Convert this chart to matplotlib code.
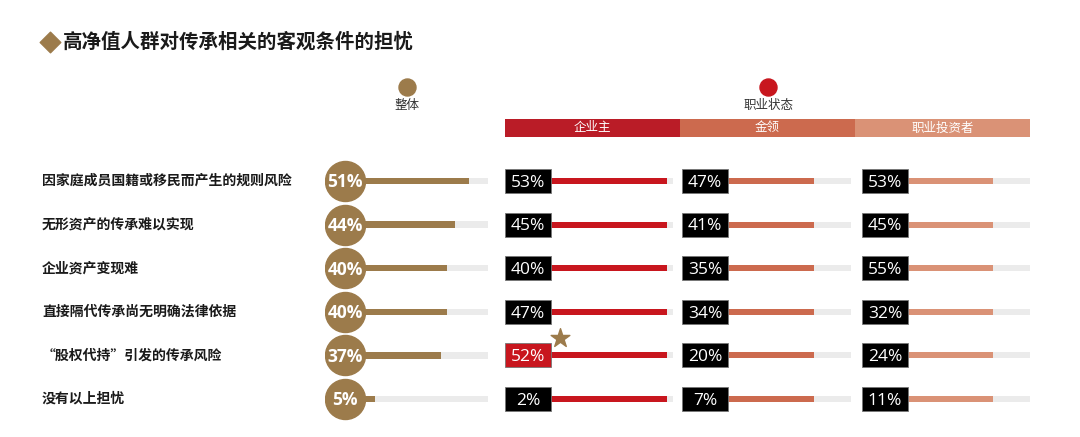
import numpy as np
import matplotlib.pyplot as plt
from matplotlib.patches import Rectangle

plt.rcParams['font.family'] = ['Noto Sans CJK SC', 'DejaVu Sans']

# data
title = '高净值人群对传承相关的客观条件的担忧'
categories = ['因家庭成员国籍或移民而产生的规则风险', '无形资产的传承难以实现', '企业资产变现难',
              '直接隔代传承尚无明确法律依据', '“股权代持”引发的传承风险', '没有以上担忧']
overall = [51, 44, 40, 40, 37, 5]
groups = ['企业主', '金领', '职业投资者']
owner = [53, 45, 40, 47, 52, 2]
gold_collar = [47, 41, 35, 34, 20, 7]
investor = [53, 45, 55, 32, 24, 11]
highlight = (0, 4)  # (group index, row index) marked with a star

GOLD = '#9C7B4B'
GREY = '#EBEBEB'
head_colors = ['#BA1C27', '#CC6A4E', '#DA9276']
bar_colors = ['#C8161E', '#CC6A4E', '#DA9276']
fills = [0.95, 0.70, 0.70]  # bar fill of the track in the right-hand columns

W, H = 1080, 437
fig = plt.figure(figsize=(W / 100, H / 100), dpi=100)

def px_axes(x0, x1, y0, y1):
    return fig.add_axes([x0 / W, 1 - y1 / H, (x1 - x0) / W, (y1 - y0) / H])

# background axes in pixel coordinates for decoration
bg = fig.add_axes([0, 0, 1, 1])
bg.set_xlim(0, W)
bg.set_ylim(H, 0)
bg.axis('off')

bg.scatter([50], [42], marker='D', s=110, color=GOLD)
bg.text(63, 42, title, fontsize=14, fontweight='bold', color='#1A1A1A', va='center')

bg.scatter([407], [87], s=150, color=GOLD)
bg.text(407, 106, '整体', fontsize=9, color='#333333', ha='center', va='center')
bg.scatter([768], [87], s=150, color=bar_colors[0])
bg.text(768, 106, '职业状态', fontsize=9, color='#333333', ha='center', va='center')

head_x = [505, 680, 855, 1030]
for i, g in enumerate(groups):
    bg.add_patch(Rectangle((head_x[i], 119), head_x[i + 1] - head_x[i], 18, color=head_colors[i], lw=0))
    bg.text((head_x[i] + head_x[i + 1]) / 2, 128, g, fontsize=9, color='white', ha='center', va='center')

row_top, row_bot = 159.2, 420.8
n = len(categories)
row_y = np.arange(n)

for i, c in enumerate(categories):
    y = row_top + (i + 0.5) * (row_bot - row_top) / n
    bg.text(42, y, c, fontsize=10, fontweight='bold', color='#1A1A1A', va='center')

# overall column
ax = px_axes(325, 488, row_top, row_bot)
ax.set_xlim(-19.2, 60)
ax.set_ylim(n - 0.5, -0.5)
ax.axis('off')
ax.barh(row_y, 60, height=0.15, color=GREY, lw=0)
ax.barh(row_y, overall, height=0.15, color=GOLD, lw=0)
ax.scatter(np.full(n, -9.5), row_y, s=830, color=GOLD, zorder=3)
for i, v in enumerate(overall):
    ax.text(-9.5, i + 0.03, f'{v}%', fontsize=12.5, fontweight='bold', color='white',
            ha='center', va='center', zorder=4, family='Open Sans')

# status columns
col_x = [(505, 673), (682, 851), (862, 1030)]
series = [owner, gold_collar, investor]
box_w = 46
for k, vals in enumerate(series):
    x0, x1 = col_x[k]
    ax = px_axes(x0, x1, row_top, row_bot)
    ax.set_xlim(0, x1 - x0)
    ax.set_ylim(n - 0.5, -0.5)
    ax.axis('off')
    track = x1 - x0 - box_w
    ax.barh(row_y, track, left=box_w, height=0.14, color=GREY, lw=0)
    ax.barh(row_y, track * fills[k], left=box_w, height=0.14, color=bar_colors[k], lw=0)
    for i, v in enumerate(vals):
        fc = bar_colors[0] if (k, i) == highlight else 'black'
        ax.add_patch(Rectangle((0, i - 0.275), box_w, 0.55, facecolor=fc,
                               edgecolor='#777777', lw=0.6, zorder=3))
        ax.text(box_w / 2, i + 0.04, f'{v}%', fontsize=12.5, color='white', ha='center',
                va='center', zorder=4, family='Open Sans')
    if highlight[0] == k:
        ax.scatter([box_w + 9], [highlight[1] - 0.4], marker='*', s=200, color=GOLD,
                   zorder=5, clip_on=False)

fig.savefig('out.png', dpi=100)
